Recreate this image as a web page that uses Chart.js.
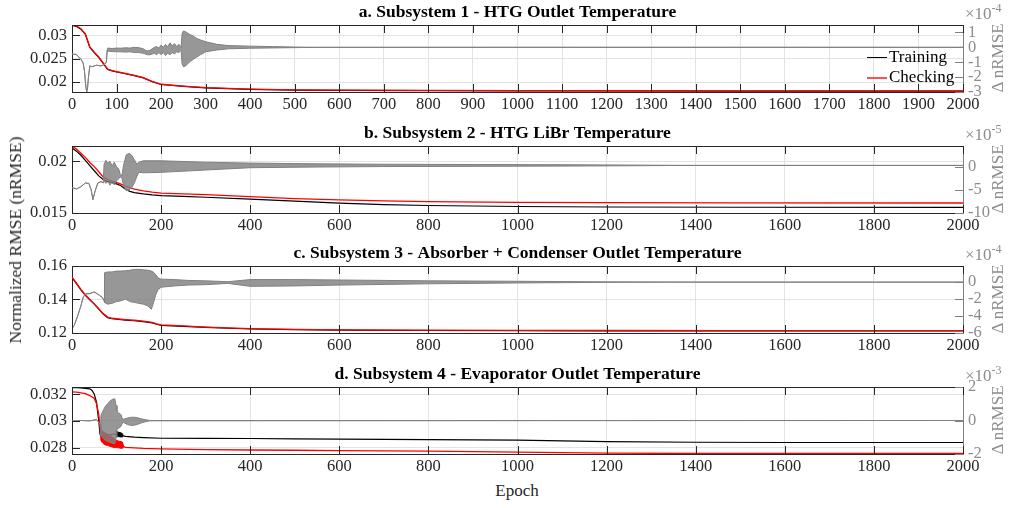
<!DOCTYPE html>
<html>
<head>
<meta charset="utf-8">
<script src="https://cdn.jsdelivr.net/npm/chart.js@4.4.0/dist/chart.umd.min.js"></script>
<style>
  html,body{margin:0;padding:0;background:#fff;}
  body{width:1015px;height:508px;position:relative;overflow:hidden;font-family:"Liberation Serif","Times New Roman",serif;}
  canvas{position:absolute;left:0;}
  .t{position:absolute;white-space:nowrap;line-height:20px;}
  .g{color:#8c8c8c;font-size:17px;}
  .rot{position:absolute;white-space:nowrap;transform:translate(-50%,-50%) rotate(-90deg);line-height:20px;}
  .ctr{position:absolute;white-space:nowrap;transform:translate(-50%,-50%);line-height:20px;}
  .sw{position:absolute;width:20px;}
</style>
</head>
<body>
<canvas id="c0" width="1015" height="114" style="top:0px"></canvas>
<canvas id="c1" width="1015" height="114" style="top:121px"></canvas>
<canvas id="c2" width="1015" height="114" style="top:241px"></canvas>
<canvas id="c3" width="1015" height="114" style="top:362px"></canvas>

<!-- right-axis exponent labels -->
<div class="t g" style="left:965px;top:4px">×10<span style="position:relative;top:-7px;font-size:12px">-4</span></div>
<div class="t g" style="left:965px;top:125px">×10<span style="position:relative;top:-7px;font-size:12px">-5</span></div>
<div class="t g" style="left:965px;top:245px">×10<span style="position:relative;top:-7px;font-size:12px">-4</span></div>
<div class="t g" style="left:965px;top:366px">×10<span style="position:relative;top:-7px;font-size:12px">-3</span></div>

<!-- right-axis titles -->
<div class="rot g" style="left:998px;top:58px">Δ nRMSE</div>
<div class="rot g" style="left:998px;top:179px">Δ nRMSE</div>
<div class="rot g" style="left:998px;top:299px">Δ nRMSE</div>
<div class="rot g" style="left:998px;top:420px">Δ nRMSE</div>

<!-- shared axis titles -->
<div class="rot" style="left:15px;top:240px;font-size:17.5px;color:#262626">Normalized RMSE (nRMSE)</div>
<div class="ctr" style="left:517px;top:491px;font-size:17px;color:#262626">Epoch</div>

<!-- legend (panel a) -->
<div class="sw" style="left:867px;top:57px;height:1px;background:#000"></div>
<div class="t" style="left:889px;top:47px;font-size:17px;color:#000">Training</div>
<div class="sw" style="left:867px;top:77px;height:2px;background:#ff5050"></div>
<div class="t" style="left:889px;top:67px;font-size:17px;color:#000">Checking</div>

<script>
// ---------------- tick values ----------------
const xTicksA = [0,100,200,300,400,500,600,700,800,900,1000,1100,1200,1300,1400,1500,1600,1700,1800,1900,2000];
const xTicksBCD = [0,200,400,600,800,1000,1200,1400,1600,1800,2000];
const yTicksA = [0.02,0.025,0.03];
const y2TicksA = [-3,-2,-1,0,1];
const yTicksB = [0.015,0.02];
const y2TicksB = [-10,-5,0];
const yTicksC = [0.12,0.14,0.16];
const y2TicksC = [-6,-4,-2,0];
const yTicksD = [0.028,0.03,0.032];
const y2TicksD = [-2,0,2];

// ---------------- panel a ----------------
const epochA = [0,10,20,30,40,50,60,70,80,90,100,120,140,160,180,200,250,300,400,500,600,800,1000,1200,1500,2000];
const trainA = [0.0321,0.0319,0.0313,0.0302,0.0274,0.0263,0.0253,0.0240,0.0227,0.0224,0.0222,0.0218,0.0214,0.0209,0.0201,0.0195,0.0191,0.01878,0.01845,0.0183,0.01825,0.0182,0.01815,0.01812,0.0181,0.0181];
const checkA = [0.0322,0.0320,0.0314,0.0303,0.0275,0.0264,0.0254,0.0241,0.0228,0.02245,0.02225,0.02185,0.02145,0.02095,0.02015,0.01955,0.01915,0.01883,0.0185,0.01835,0.0183,0.01825,0.0182,0.01817,0.01815,0.01815];
const diffEpochA = [0,10,15,20,25,28,31,33,35,37,40,45,55,65,73,77,79,80,90,100,110,120,130,140,150,160,165,170,175,180,185,190,195,200,205,210,215,220,225,230,235,240,245,247,250,255,260,265,270,280,288,300,325,350,400,450,500,550,2000];
const diffHiA = [-0.45,-0.48,-0.65,-0.8,-1.05,-1.6,-2.6,-3.0,-2.7,-2.0,-1.25,-1.3,-1.2,-1.25,-1.15,-1.0,-0.2,-0.05,-0.08,-0.05,-0.06,-0.03,-0.05,0.0,-0.02,-0.1,-0.2,-0.25,-0.2,-0.1,0.0,0.05,-0.05,0.15,0.0,0.2,0.05,0.3,0.1,0.25,0.05,0.2,0.0,0.9,1.1,1.05,0.95,0.85,0.8,0.6,0.5,0.38,0.2,0.12,0.08,0.05,0.02,0.0,0.0];
const diffLoA = [-0.45,-0.48,-0.65,-0.8,-1.05,-1.6,-2.6,-3.0,-2.7,-2.0,-1.25,-1.3,-1.2,-1.25,-1.15,-1.0,-0.2,-0.25,-0.28,-0.3,-0.3,-0.32,-0.3,-0.35,-0.35,-0.4,-0.45,-0.5,-0.5,-0.45,-0.4,-0.5,-0.35,-0.5,-0.35,-0.55,-0.4,-0.5,-0.35,-0.45,-0.3,-0.35,-0.2,-1.1,-1.3,-1.25,-1.1,-0.95,-0.85,-0.65,-0.5,-0.3,-0.18,-0.1,-0.06,-0.04,-0.02,0.0,0.0];

// ---------------- panel b ----------------
const epochB = [0,10,20,30,40,50,60,70,80,90,100,110,120,130,140,160,180,200,250,300,400,500,600,700,800,1000,1200,1500,2000];
const trainB = [0.0213,0.0210,0.0206,0.0201,0.0196,0.0191,0.0186,0.01825,0.01805,0.01795,0.01782,0.01765,0.0173,0.0171,0.01698,0.01685,0.01675,0.01668,0.01661,0.01653,0.01635,0.01615,0.01596,0.01582,0.01573,0.01563,0.01558,0.01556,0.01555];
const checkB = [0.0215,0.0212,0.0208,0.0204,0.0199,0.0195,0.0190,0.0185,0.01825,0.0181,0.01798,0.0178,0.0176,0.01745,0.01732,0.01715,0.01703,0.01693,0.01686,0.01678,0.01658,0.0164,0.01627,0.01617,0.0161,0.01603,0.016,0.01598,0.01597];
const diffEpochB = [0,10,20,30,38,43,47,52,58,65,70,72,76,80,85,90,95,100,105,108,112,116,122,128,134,140,146,150,160,200,300,400,550,700,900,1100,1300,1400,2000];
const diffHiB = [-4.5,-4.8,-4.3,-3.5,-3.6,-5.0,-7.1,-5.2,-3.5,-3.2,-3.5,0.5,1.4,0.8,1.2,0.2,1.0,0.0,-0.5,-1.5,-2.0,0.5,2.6,2.9,2.5,1.5,0.5,1.0,1.3,1.3,1.0,0.8,0.65,0.55,0.5,0.45,0.35,0.3,0.3];
const diffLoB = [-4.5,-4.8,-4.3,-3.5,-3.6,-5.0,-7.1,-5.2,-3.5,-3.2,-3.5,-3.0,-3.6,-2.8,-4.0,-3.2,-3.9,-3.0,-2.6,-2.2,-2.4,-4.2,-5.2,-5.0,-4.5,-3.5,-2.0,-1.2,-1.3,-1.2,-0.7,-0.2,-0.05,0.05,0.1,0.15,0.25,0.3,0.3];

// ---------------- panel c ----------------
const epochC = [0,10,20,30,40,50,60,70,80,90,100,120,140,160,180,190,200,250,300,400,500,600,800,1000,1200,1500,2000];
const trainC = [0.1532,0.1495,0.1458,0.1425,0.1398,0.1372,0.1343,0.1313,0.1292,0.1285,0.1282,0.1277,0.1273,0.1268,0.1260,0.1252,0.1246,0.1240,0.1233,0.1224,0.1220,0.1217,0.1215,0.1214,0.1213,0.1212,0.1212];
const checkC = [0.1534,0.1497,0.1460,0.1427,0.1400,0.1374,0.1345,0.1316,0.1295,0.1288,0.1285,0.1280,0.1276,0.1271,0.1263,0.1255,0.1249,0.1242,0.1235,0.1226,0.1222,0.1219,0.1217,0.1216,0.1215,0.1214,0.1214];
const diffEpochC = [0,5,12,20,25,30,40,50,60,68,72,73,80,90,100,110,120,130,140,150,160,170,178,182,188,193,200,230,260,300,350,400,500,600,800,1000,1200,1400,2000];
const diffHiC = [-5.5,-5.1,-4.1,-2.8,-1.8,-1.4,-1.35,-1.16,-1.5,-1.8,-2.2,1.1,1.2,1.2,1.3,1.3,1.35,1.4,1.5,1.5,1.45,1.4,1.3,1.2,0.9,0.5,0.35,0.3,0.2,0.15,0.05,0.3,0.3,0.25,0.15,0.1,0.03,0,0];
const diffLoC = [-5.5,-5.1,-4.1,-2.8,-1.8,-1.4,-1.35,-1.16,-1.5,-1.8,-2.2,-2.4,-2.6,-2.5,-2.3,-2.2,-2.0,-2.3,-2.4,-2.5,-2.6,-2.8,-3.2,-2.6,-1.5,-0.9,-0.6,-0.45,-0.35,-0.3,-0.15,-0.5,-0.45,-0.35,-0.2,-0.1,-0.03,0,0];

// ---------------- panel d ----------------
const epochD = [0,10,20,30,40,45,50,55,60,63,66,70,80,90,100,110,115,120,140,160,200,300,400,500,600,800,1000,1100,1200,1400,1600,2000];
const trainD = [0.0325,0.03249,0.03247,0.03244,0.0324,0.03228,0.0320,0.0314,0.0300,0.0290,0.0288,0.0289,0.0289,0.0290,0.0290,0.02895,0.02888,0.02884,0.02878,0.02875,0.0287,0.02869,0.02868,0.02866,0.02864,0.0286,0.02856,0.02851,0.02845,0.0284,0.02838,0.02838];
const checkEpochD = [0,10,20,30,40,50,55,60,63,65,70,80,90,100,110,115,120,140,160,200,300,400,500,600,800,1000,1100,1200,1400,2000];
const checkD = [0.03217,0.03215,0.0321,0.03205,0.0319,0.03168,0.0313,0.0305,0.0295,0.0286,0.0287,0.0285,0.0284,0.02825,0.0282,0.0281,0.02802,0.02798,0.02794,0.0279,0.02785,0.02782,0.0278,0.02777,0.02773,0.02766,0.02762,0.02758,0.02756,0.02756];
const trainBandEpochD = [98,100,105,110,113,115];
const trainBandHiD = [0.0292,0.02918,0.02915,0.0291,0.02905,0.0289];
const trainBandLoD = [0.0288,0.02882,0.02882,0.0288,0.0288,0.02886];
const checkBandEpochD = [65,70,75,80,85,90,95,100,105,110,113,116];
const checkBandHiD = [0.0293,0.0292,0.0291,0.029,0.0289,0.0288,0.0287,0.02855,0.02848,0.02845,0.02842,0.0281];
const checkBandLoD = [0.0285,0.0283,0.0282,0.02815,0.0281,0.02805,0.028,0.028,0.02798,0.02795,0.02795,0.02802];
const diffEpochD = [0,20,40,55,60,63,65,70,75,80,85,90,96,99,101,105,110,113,116,125,135,145,155,165,175,2000];
const diffHiD = [-0.04,0,-0.02,0.05,-0.1,-0.25,0.3,0.6,0.85,1.0,1.15,1.25,1.3,0.9,0.5,0.45,0.35,0.1,0.08,0.15,0.2,0.18,0.1,0.05,0,0];
const diffLoD = [-0.04,0,-0.02,0.05,-0.1,-0.25,-0.9,-1.05,-1.2,-1.25,-1.3,-1.35,-1.4,-1.0,-0.5,-0.45,-0.35,-0.15,-0.12,-0.25,-0.3,-0.25,-0.15,-0.07,-0.02,0];

// ---------------- styling ----------------
const FONT = '"Liberation Serif", "Times New Roman", serif';
const DARK = '#262626', GRID = '#e3e3e3', GRAY = '#808080', LGRAY = '#8c8c8c', RED = '#ff0000';
const BAND = 'rgba(128,128,128,0.82)';
Chart.defaults.font.family = FONT;
Chart.defaults.font.size = 16.5;

function pts(xs, ys){ return xs.map((x,i)=>({x:x, y:ys[i]})); }
function ds(data, color, width, axis, extra){
  return Object.assign({data:data, borderColor:color, backgroundColor:color, borderWidth:width,
    pointRadius:0, pointHoverRadius:0, tension:0, yAxisID:axis, fill:false}, extra||{});
}
function diffSets(ex, hi, lo){
  return [ds(pts(ex,hi), GRAY, 1, 'y2'), ds(pts(ex,lo), GRAY, 1, 'y2', {fill:'-1', backgroundColor:BAND})];
}

const boxTicks = {
  id:'boxTicks',
  afterDraw(chart){
    const ctx = chart.ctx, a = chart.chartArea, sx = chart.scales.x, sy = chart.scales.y, sy2 = chart.scales.y2;
    ctx.save();
    ctx.lineWidth = 1;
    ctx.strokeStyle = DARK;
    ctx.beginPath();
    ctx.moveTo(a.left, Math.round(a.top)+0.5); ctx.lineTo(a.right, Math.round(a.top)+0.5);
    sx.ticks.forEach(t=>{
      const px = Math.round(sx.getPixelForValue(t.value))+0.5;
      ctx.moveTo(px, a.bottom); ctx.lineTo(px, a.bottom-8);
      ctx.moveTo(px, a.top); ctx.lineTo(px, a.top+8);
    });
    sy.ticks.forEach(t=>{
      const py = Math.round(sy.getPixelForValue(t.value))+0.5;
      ctx.moveTo(a.left, py); ctx.lineTo(a.left+8, py);
    });
    ctx.stroke();
    ctx.strokeStyle = GRAY;
    ctx.beginPath();
    sy2.ticks.forEach(t=>{
      const py = Math.round(sy2.getPixelForValue(t.value))+0.5;
      ctx.moveTo(a.right, py); ctx.lineTo(a.right-8, py);
    });
    ctx.stroke();
    ctx.restore();
  }
};

function tickFont(){ return {family:FONT, size:16.5, weight:'normal'}; }

function makeChart(id, title, xTicks, yMin, yMax, yTicks, y2Min, y2Max, y2Ticks, datasets){
  return new Chart(document.getElementById(id), {
    type:'line',
    data:{datasets:datasets},
    options:{
      responsive:false, animation:false, devicePixelRatio:1,
      layout:{padding:0},
      plugins:{
        legend:{display:false}, tooltip:{enabled:false},
        title:{display:true, text:title, fullSize:false, color:'#000',
          font:{family:FONT, size:17.5, weight:'bold'}, padding:{top:2, bottom:2}}
      },
      scales:{
        x:{type:'linear', min:0, max:2000,
          afterBuildTicks:s=>{s.ticks = xTicks.map(v=>({value:v}));},
          afterFit:s=>{s.height = 22;},
          ticks:{color:DARK, font:tickFont(), padding:3, maxRotation:0, minRotation:0, autoSkip:false, callback:v=>String(v)},
          grid:{color:GRID, drawTicks:false}, border:{color:DARK}},
        y:{type:'linear', position:'left', min:yMin, max:yMax,
          afterBuildTicks:s=>{s.ticks = yTicks.map(v=>({value:v}));},
          afterFit:s=>{s.width = 72;},
          ticks:{color:DARK, font:tickFont(), padding:5, autoSkip:false, callback:v=>String(v)},
          grid:{color:GRID, drawTicks:false}, border:{color:DARK}},
        y2:{type:'linear', position:'right', min:y2Min, max:y2Max,
          afterBuildTicks:s=>{s.ticks = y2Ticks.map(v=>({value:v}));},
          afterFit:s=>{s.width = 52;},
          ticks:{color:LGRAY, font:tickFont(), padding:5, autoSkip:false, callback:v=>String(v)},
          grid:{display:false, drawTicks:false}, border:{color:GRAY}}
      }
    },
    plugins:[boxTicks]
  });
}

makeChart('c0', 'a. Subsystem 1 - HTG Outlet Temperature', xTicksA, 0.0179, 0.0322, yTicksA, -3, 1.5, y2TicksA,
  diffSets(diffEpochA, diffHiA, diffLoA).concat([
    ds(pts(epochA, checkA), RED, 1.3, 'y'),
    ds(pts(epochA, trainA), '#000', 1.2, 'y')
  ]));

makeChart('c1', 'b. Subsystem 2 - HTG LiBr Temperature', xTicksBCD, 0.015, 0.0215, yTicksB, -10, 4.5, y2TicksB,
  diffSets(diffEpochB, diffHiB, diffLoB).concat([
    ds(pts(epochB, checkB), RED, 1.3, 'y'),
    ds(pts(epochB, trainB), '#000', 1.2, 'y')
  ]));

makeChart('c2', 'c. Subsystem 3 - Absorber + Condenser Outlet Temperature', xTicksBCD, 0.12, 0.16, yTicksC, -6, 1.9, y2TicksC,
  diffSets(diffEpochC, diffHiC, diffLoC).concat([
    ds(pts(epochC, checkC), RED, 1.3, 'y'),
    ds(pts(epochC, trainC), '#000', 1.2, 'y')
  ]));

makeChart('c3', 'd. Subsystem 4 - Evaporator Outlet Temperature', xTicksBCD, 0.02752, 0.03254, yTicksD, -2, 2, y2TicksD,
  diffSets(diffEpochD, diffHiD, diffLoD).concat([
    ds(pts(trainBandEpochD, trainBandHiD), '#000', 1, 'y'),
    ds(pts(trainBandEpochD, trainBandLoD), '#000', 1, 'y', {fill:'-1', backgroundColor:'#000'}),
    ds(pts(checkBandEpochD, checkBandHiD), RED, 1, 'y'),
    ds(pts(checkBandEpochD, checkBandLoD), RED, 1, 'y', {fill:'-1', backgroundColor:RED}),
    ds(pts(checkEpochD, checkD), RED, 1.3, 'y'),
    ds(pts(epochD, trainD), '#000', 1.2, 'y')
  ]));
</script>
</body>
</html>
